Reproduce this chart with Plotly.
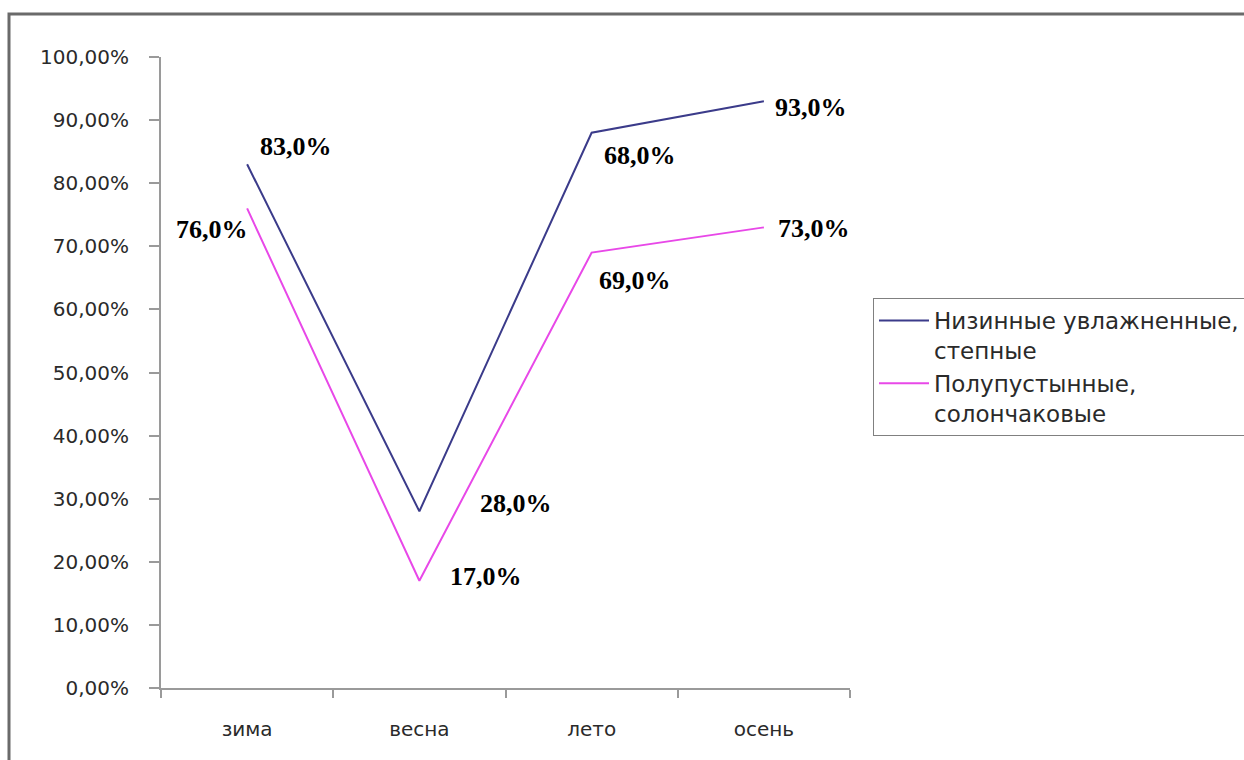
import plotly.graph_objects as go

seasons = ["зима", "весна", "лето", "осень"]
series1_name = "Низинные увлажненные,<br>степные"
series2_name = "Полупустынные,<br>солончаковые"
series1_values = [83, 28, 88, 93]
series2_values = [76, 17, 69, 73]
series1_labels = ["83,0%", "28,0%", "68,0%", "93,0%"]
series2_labels = ["76,0%", "17,0%", "69,0%", "73,0%"]

# label offsets in pixels (layout only)
off1 = [(49, 18), (97, 8), (48, -23), (47, -6)]
off2 = [(-35, -21), (67, 4), (43, -28), (50, -1)]

c1 = "#3b3b8a"
c2 = "#e848e8"

fig = go.Figure()
fig.add_trace(go.Scatter(x=seasons, y=series1_values, mode="lines", name=series1_name,
                         line=dict(color=c1, width=2)))
fig.add_trace(go.Scatter(x=seasons, y=series2_values, mode="lines", name=series2_name,
                         line=dict(color=c2, width=2)))

ann = []
for vals, labs, offs in ((series1_values, series1_labels, off1), (series2_values, series2_labels, off2)):
    for s, v, t, (dx, dy) in zip(seasons, vals, labs, offs):
        ann.append(dict(x=s, y=v, text=t, showarrow=False, xshift=dx, yshift=dy,
                        font=dict(family="Liberation Serif", size=26, color="black", weight="bold"),
                        xanchor="center", yanchor="middle"))

W, H = 1244, 760
L, R, T, B = 161, 1244 - 850, 57, 760 - 688
pw, ph = W - L - R, H - T - B

fig.update_layout(
    width=W, height=H,
    margin=dict(l=L, r=R, t=T, b=B, autoexpand=False),
    paper_bgcolor="white", plot_bgcolor="white",
    separators=", ",
    font=dict(family="DejaVu Sans", size=20, color="#2a2a2a"),
    showlegend=True,
    legend=dict(x=(873 - L) / pw, y=(688 - 298) / ph, xanchor="left", yanchor="top",
                bordercolor="#808080", borderwidth=1, bgcolor="white",
                font=dict(family="DejaVu Sans", size=23, color="#2a2a2a"),
                valign="top", itemwidth=50, tracegroupgap=8),
    annotations=ann,
    shapes=[dict(type="rect", xref="paper", yref="paper",
                 x0=(9 - L) / pw, x1=(1300 - L) / pw,
                 y0=(688 - 800) / ph, y1=(688 - 14) / ph,
                 line=dict(color="#6a6a6a", width=3), fillcolor="rgba(0,0,0,0)", layer="below")],
)
fig.update_xaxes(range=[-0.5, 3.5], showgrid=False, showline=True, linecolor="#9a9a9a", linewidth=2,
                 ticks="outside", tickson="boundaries", ticklen=8, tickcolor="#9a9a9a",
                 tickwidth=2, ticklabelstandoff=22, zeroline=False)
fig.update_yaxes(range=[0, 100], dtick=10, tickformat=".2f", ticksuffix="%",
                 showgrid=False, showline=True, linecolor="#9a9a9a", linewidth=2,
                 ticks="outside", ticklen=10, tickcolor="#9a9a9a", tickwidth=2,
                 ticklabelstandoff=16, zeroline=False)

fig.write_html("out.html")
